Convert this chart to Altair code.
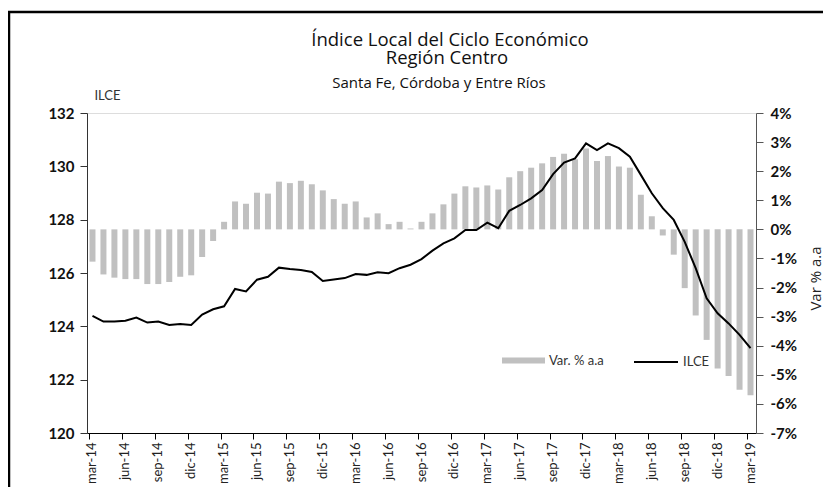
import altair as alt
import pandas as pd

meses = ["ene", "feb", "mar", "abr", "may", "jun", "jul", "ago", "sep", "oct", "nov", "dic"]
periodos = [f"{meses[(2 + k) % 12]}-{14 + (2 + k) // 12}" for k in range(61)]

var_aa = [
    -1.11, -1.55, -1.66, -1.71, -1.71, -1.88, -1.88, -1.81, -1.63, -1.58,
    -0.95, -0.40, 0.26, 0.96, 0.88, 1.26, 1.23, 1.64, 1.59, 1.67,
    1.55, 1.34, 1.04, 0.88, 0.96, 0.41, 0.55, 0.18, 0.26, 0.03,
    0.26, 0.55, 0.86, 1.23, 1.48, 1.44, 1.51, 1.37, 1.79, 2.00,
    2.12, 2.27, 2.49, 2.60, 2.41, 2.78, 2.35, 2.52, 2.16, 2.12,
    1.19, 0.45, -0.21, -0.87, -2.02, -2.96, -3.80, -4.78, -5.04, -5.51,
    -5.70,
]

ilce = [
    124.39, 124.18, 124.18, 124.21, 124.33, 124.14, 124.18, 124.05, 124.09, 124.05,
    124.44, 124.64, 124.75, 125.40, 125.31, 125.75, 125.86, 126.20, 126.15, 126.11,
    126.04, 125.70, 125.76, 125.81, 125.96, 125.93, 126.03, 125.99, 126.18, 126.31,
    126.52, 126.84, 127.11, 127.30, 127.61, 127.61, 127.89, 127.68, 128.33, 128.55,
    128.80, 129.11, 129.71, 130.14, 130.30, 130.86, 130.61, 130.86, 130.68, 130.36,
    129.68, 128.99, 128.43, 127.99, 127.17, 126.18, 125.05, 124.49, 124.11, 123.68,
    123.18,
]

left_ticks = [120, 122, 124, 126, 128, 130, 132]
right_ticks = [-7, -6, -5, -4, -3, -2, -1, 0, 1, 2, 3, 4]
x_ticks = periodos[::3]

df = pd.DataFrame({
    "periodo": periodos,
    "var": var_aa,
    "ilce": ilce,
    "sb": "Var. % a.a",
    "sl": "ILCE",
})

W, H = 669, 320
FONT = "Lato"
TFONT = "Open Sans"

x_enc = alt.X(
    "periodo:N",
    sort=periodos,
    scale=alt.Scale(paddingInner=0.45, paddingOuter=0.225),
    axis=alt.Axis(
        values=x_ticks, bandPosition=0, labelAngle=270,
        labelAlign="right", labelBaseline="middle", labelPadding=3,
        tickSize=6, tickColor="#000", domainColor="#000", domainWidth=1,
        labelFont=FONT, labelFontSize=13, labelColor="#222", title=None,
        grid=False,
    ),
)

bars = alt.Chart(df).mark_bar(size=6).encode(
    x=x_enc,
    y=alt.Y(
        "var:Q",
        scale=alt.Scale(domain=[-7, 4], nice=False),
        axis=alt.Axis(
            orient="right", values=right_ticks, labelExpr="datum.value + '%'",
            tickSize=7, tickColor="#555", domainColor="#555", grid=False,
            labelFont=FONT, labelFontSize=15, labelFontWeight="bold", labelColor="#111",
            labelPadding=7,
            title="Var % a.a", titleAngle=270, titleX=59, titleY=165,
            titleAlign="center", titleBaseline="middle",
            titleFont=TFONT, titleFontSize=15, titleFontWeight="normal", titleColor="#222",
        ),
    ),
    fill=alt.Fill(
        "sb:N",
        scale=alt.Scale(range=["#C0C0C0"]),
        legend=alt.Legend(
            orient="none", legendX=415, legendY=226, title=None,
            symbolType="M-1,-0.14L1,-0.14L1,0.14L-1,0.14Z", symbolSize=1849,
            symbolStrokeWidth=0, labelFont=FONT, labelFontSize=13, labelColor="#333",
            padding=0,
        ),
    ),
)

line = alt.Chart(df).mark_line(color="#000", strokeWidth=2).encode(
    x=alt.X("periodo:N", sort=periodos),
    y=alt.Y(
        "ilce:Q",
        scale=alt.Scale(domain=[120, 132], nice=False, zero=False),
        axis=alt.Axis(
            orient="left", values=left_ticks, tickSize=7, tickColor="#333",
            domainColor="#333", grid=False,
            labelFont=FONT, labelFontSize=15, labelFontWeight="bold", labelColor="#111",
            labelPadding=6,
            title="ILCE", titleAngle=0, titleX=20, titleY=-18,
            titleAlign="center", titleBaseline="middle",
            titleFont=FONT, titleFontSize=13, titleFontWeight="normal", titleColor="#333",
        ),
    ),
    stroke=alt.Stroke(
        "sl:N",
        scale=alt.Scale(range=["#000"]),
        legend=alt.Legend(
            orient="none", legendX=546, legendY=226, title=None,
            symbolType="stroke", symbolSize=1936, symbolStrokeWidth=2,
            labelFont=FONT, labelFontSize=13, labelColor="#333", padding=0,
        ),
    ),
)

one = pd.DataFrame({"a": [0]})
texts = alt.layer(
    alt.Chart(one).mark_text(font=TFONT, fontSize=18.5, align="center", baseline="alphabetic", color="#111").encode(
        x=alt.value(363), y=alt.value(-67), text=alt.value("Índice Local del Ciclo Económico")),
    alt.Chart(one).mark_text(font=TFONT, fontSize=18.5, align="center", baseline="alphabetic", color="#111").encode(
        x=alt.value(360), y=alt.value(-49), text=alt.value("Región Centro")),
    alt.Chart(one).mark_text(font=TFONT, fontSize=15, align="center", baseline="alphabetic", color="#111").encode(
        x=alt.value(352), y=alt.value(-25), text=alt.value("Santa Fe, Córdoba y Entre Ríos")),
)

frame = alt.layer(
    alt.Chart(one).mark_rule(color="#000", strokeWidth=2.5, clip=False).encode(
        x=alt.value(-78), y=alt.value(-101), y2=alt.value(H + 60)),
    alt.Chart(one).mark_rule(color="#000", strokeWidth=2.5, clip=False).encode(
        x=alt.value(-79), x2=alt.value(W + 80), y=alt.value(-101)),
)

chart = alt.layer(bars, line, texts, frame).resolve_scale(
    y="independent", fill="independent", stroke="independent"
).properties(
    width=W, height=H,
    autosize=alt.AutoSizeParams(type="none"),
    padding={"left": 79, "top": 105, "right": 67, "bottom": 54},
).configure_view(stroke="#666", strokeWidth=1).configure(background="white")

chart.save("out.html", embed_options={"renderer": "svg", "actions": False})
